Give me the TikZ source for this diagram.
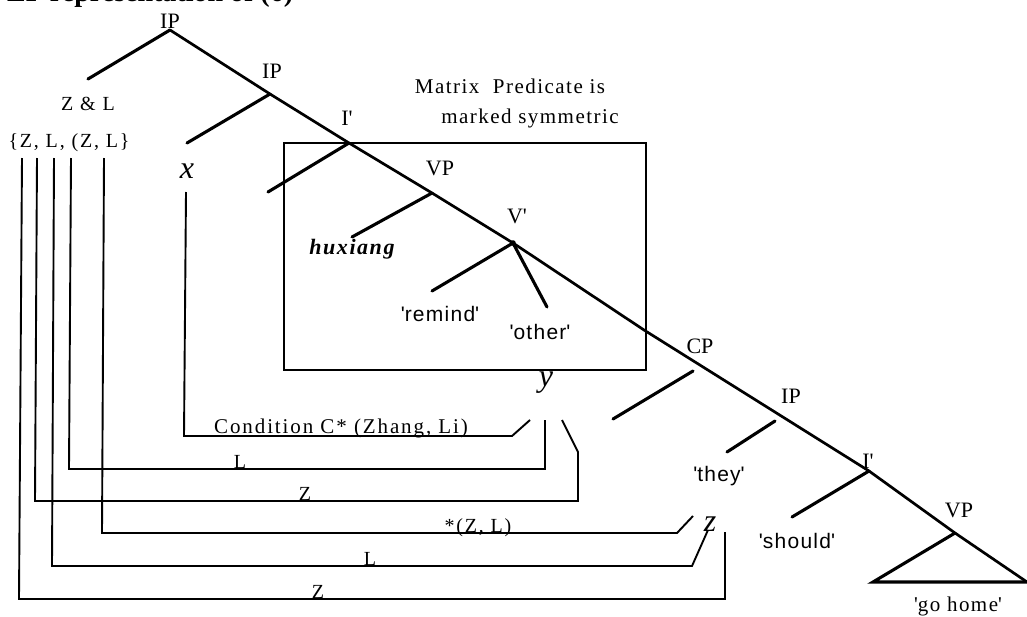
\documentclass[tikz,border=0pt]{standalone}
\usepackage{fontspec}
\setmainfont{Liberation Serif}
\newfontfamily\glossfont[LetterSpace=6]{Liberation Sans}
\newfontfamily\spacedserif[LetterSpace=9]{Liberation Serif}
\newfontfamily\notefont[LetterSpace=7]{Liberation Serif}
\newcommand{\qt}{\textquotesingle}
\tikzset{
  branch/.style={line width=3.1pt, line cap=round},
  spine/.style={line width=2.7pt, line join=round},
  boxline/.style={line width=1.9pt},
  link/.style={line width=1.9pt, line join=miter},
  lab/.style={inner sep=0pt, anchor=base, font=\fontsize{22}{24}\selectfont},
  small/.style={inner sep=0pt, anchor=base, font=\spacedserif\fontsize{20}{24}\selectfont},
  note/.style={inner sep=0pt, anchor=base, font=\notefont\fontsize{21}{24}\selectfont},
  cond/.style={inner sep=0pt, anchor=base, font=\spacedserif\fontsize{21}{24}\selectfont},
  gloss/.style={inner sep=0pt, anchor=base, font=\glossfont\fontsize{21}{24}\selectfont},
  glossserif/.style={inner sep=0pt, anchor=base, font=\notefont\fontsize{21}{24}\selectfont},
  hux/.style={inner sep=0pt, anchor=base, font=\notefont\bfseries\itshape\fontsize{22}{24}\selectfont},
  var/.style={inner sep=0pt, anchor=base, font=\itshape\fontsize{32}{36}\selectfont},
  title/.style={inner sep=0pt, anchor=base west, font=\bfseries\fontsize{28}{30}\selectfont}
}
\begin{document}
\begin{tikzpicture}[x=1pt,y=-1pt]
\useasboundingbox (0,0) rectangle (1027,616);
\clip (0,0) rectangle (1027,616);
\fill[white] (0,0) rectangle (1027,616);

% partially visible heading (cut by the top edge, as in the reference)
\node[title] (head) at (7,1) {LF representation of (6)};

% spine junctions
\coordinate (root) at (170,30);
\coordinate (ipb) at (270,94);
\coordinate (ibar) at (349,143);
\coordinate (vp) at (432,193);
\coordinate (vbar) at (513,243);
\coordinate (sp1) at (644,330);
\coordinate (ibar2) at (869,471);
\coordinate (vp2) at (955,533);
\coordinate (spend) at (1027,582);

% branch ends
\coordinate (rootL) at (88,79);
\coordinate (ipbL) at (187,143);
\coordinate (ibarL) at (268,192);
\coordinate (vpL) at (352,237);
\coordinate (vbarL) at (432,291);
\coordinate (vbarR) at (547,307);
\coordinate (cpA) at (693,371);
\coordinate (cpB) at (613,419);
\coordinate (ipA) at (775,421);
\coordinate (ipB) at (727,452);
\coordinate (ibar2L) at (792,517);
\coordinate (triL) at (873,582);

% box
\draw[boxline] (284,143) rectangle (646,370);

% spine
\draw[spine] (root) -- (ipb) -- (ibar) -- (vp) -- (vbar) -- (sp1) -- (ibar2) -- (vp2) -- (spend);
% branches
\draw[branch] (root) -- (rootL);
\draw[branch] (ipb) -- (ipbL);
\draw[branch] (ibar) -- (ibarL);
\draw[branch] (vp) -- (vpL);
\draw[branch] (vbar) -- (vbarL);
\draw[branch] (vbar) -- (vbarR);
\fill (vbar) circle (2.8pt);
\draw[branch] (cpA) -- (cpB);
\draw[branch] (ipA) -- (ipB);
\draw[branch] (ibar2) -- (ibar2L);
\draw[branch, line join=miter] (vp2) -- (triL) -- (spend);

% tree labels
\node[lab] (l-ip1) at (170,28) {IP};
\node[lab] (l-ip2) at (272,78) {IP};
\node[lab] (l-ib1) at (347,125) {I\qt};
\node[lab] (l-vp1) at (440,175) {VP};
\node[lab] (l-vb) at (517,223) {V\qt};
\node[lab] (l-cp) at (700,353) {CP};
\node[lab] (l-ip3) at (791,403) {IP};
\node[lab] (l-ib2) at (868,468) {I\qt};
\node[lab] (l-vp2) at (959,517) {VP};

\node[small] (zl) at (88,110) {Z \& L};
\node[small] (set) at (69,147) {\{Z, L, (Z, L\}};
\node[note] (m1) at (510,93) {Matrix\ \ Predicate is};
\node[note] (m2) at (530,123) {marked symmetric};
\node[hux] (hx) at (352,254) {huxiang};
\node[gloss] (g1) at (440,321) {\qt remind\qt};
\node[gloss] (g2) at (540,339) {\qt other\qt};
\node[gloss] (g3) at (719,481) {\qt they\qt};
\node[gloss] (g4) at (797,548) {\qt should\qt};
\node[glossserif] (g5) at (958,611) {\qt go home\qt};

\node[var] (vx) at (187,178) {x};
\node[var] (vy) at (546,386) {y};
\node[var] (vz) at (710,531) {z};

% binding links
\coordinate (t1) at (22,158);  \coordinate (b1) at (19,599);
\coordinate (t2) at (37,158);  \coordinate (b2) at (35,501);
\coordinate (t3) at (54,158);  \coordinate (b3) at (52,566);
\coordinate (t4) at (71,158);  \coordinate (b4) at (69,469);
\coordinate (t5) at (104,158); \coordinate (b5) at (102,533);
\coordinate (t6) at (186,192); \coordinate (b6) at (184,436);

\draw[link] (t6) -- (b6) -- (512,436) -- (530,420);
\draw[link] (t4) -- (b4) -- (545,469) -- (545,420);
\draw[link] (t2) -- (b2) -- (578,501) -- (578,452) -- (562,420);
\draw[link] (t5) -- (b5) -- (677,533) -- (693,516);
\draw[link] (t3) -- (b3) -- (692,566) -- (708,530);
\draw[link] (t1) -- (b1) -- (725,599) -- (725,532);

\node[cond] (c1) at (341,433) {Condition C* (Zhang, Li)};
\node[small] (k1) at (240,468) {L};
\node[small] (k2) at (305,500) {Z};
\node[small] (k3) at (478,532) {*(Z, L)};
\node[small] (k4) at (370,565) {L};
\node[small] (k5) at (318,598) {Z};
\end{tikzpicture}
\end{document}
